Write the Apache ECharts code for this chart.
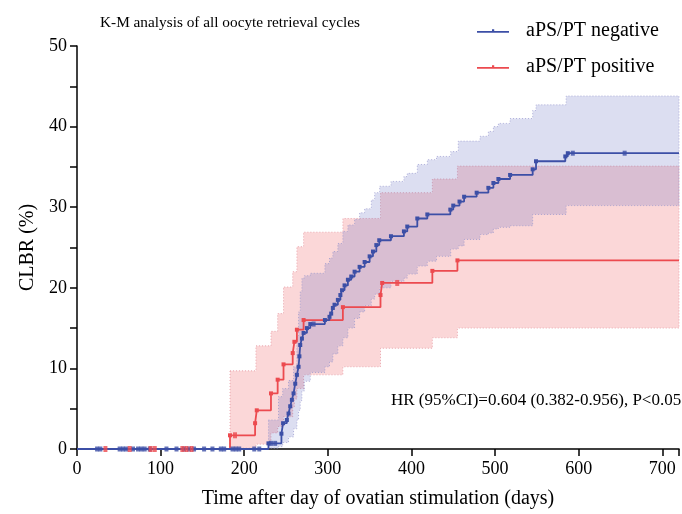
<!DOCTYPE html>
<html>
<head>
<meta charset="utf-8">
<script src="https://cdn.jsdelivr.net/npm/echarts@6/dist/echarts.min.js"></script>
<style>html,body{margin:0;padding:0;background:#fff;}#c{width:682px;height:514px;}</style>
</head>
<body>
<div id="c"></div>
<script>
// ---- data (days, cumulative live birth rate %) ----
const xTicks = [0, 100, 200, 300, 400, 500, 600, 700];
const yTicks = [0, 10, 20, 30, 40, 50];

const negDays = [0, 229, 244.5, 246.5, 251, 253, 255, 257, 259, 261, 263, 265, 266, 267, 269, 271, 275, 279, 296.5, 302, 304, 306, 308, 312, 315, 317, 320, 324, 328, 332, 338, 344, 350, 354, 358, 361.5, 375.5, 391, 395, 407, 419, 446.5, 450, 457.5, 463, 478, 492, 498, 504, 518, 545, 549, 584, 587, 720];
const negVals = [0, 0.7, 1.9, 3.2, 3.6, 4.4, 5.3, 6.1, 6.9, 8.1, 9.2, 10.2, 11.5, 12.9, 13.7, 14.4, 15.0, 15.5, 16.0, 16.4, 16.8, 17.5, 17.9, 18.5, 19.1, 19.7, 20.3, 21.0, 21.4, 22.0, 22.6, 23.2, 23.9, 24.5, 25.3, 25.9, 26.4, 27.0, 27.6, 28.6, 29.1, 29.7, 30.2, 30.7, 31.3, 31.8, 32.4, 33.0, 33.5, 34.0, 34.7, 35.7, 36.3, 36.7, 36.7];

const posDays = [0, 183, 213, 215, 232, 240, 247, 258, 260, 263, 271, 318, 363, 365, 425, 455, 720];
const posVals = [0, 1.7, 3.2, 4.8, 6.9, 8.6, 10.5, 11.9, 13.3, 14.8, 16.0, 17.6, 19.1, 20.6, 22.1, 23.4, 23.4];

const negCIDays  = [229, 241, 246, 253, 259, 263, 265, 267, 269, 272, 279, 296.5, 302, 306, 312, 318, 324, 332, 338, 344, 352, 356, 362, 375.5, 391, 395, 407, 419, 430, 447, 456, 463, 482, 492, 498, 504, 518, 545, 549, 585, 720];
const negUpper   = [3.6, 6.5, 7.5, 8.5, 10.2, 14.0, 17.0, 19.5, 21.2, 21.5, 21.8, 23.0, 23.7, 24.5, 25.5, 27.0, 27.8, 28.5, 29.3, 29.8, 30.9, 31.8, 32.6, 33.2, 33.8, 34.2, 35.3, 35.9, 36.3, 36.9, 38.2, 38.2, 38.8, 39.4, 40.0, 40.4, 41.0, 42.0, 42.7, 43.8, 43.8];
const negLower   = [0.1, 0.3, 0.8, 1.5, 2.5, 3.6, 4.8, 6.0, 7.2, 8.4, 9.5, 10.2, 10.8, 11.8, 12.8, 13.8, 15.0, 16.2, 17.0, 17.8, 18.6, 19.2, 20.0, 20.8, 21.2, 21.7, 22.7, 23.3, 23.9, 24.8, 25.2, 26.0, 26.6, 26.8, 27.3, 27.5, 27.7, 29.1, 29.1, 30.2, 30.2];

const posCIDays  = [183, 214, 232, 240, 247, 258, 260, 263, 271, 318, 363, 425, 455, 720];
const posUpper   = [9.7, 12.8, 14.6, 16.8, 20.1, 22.0, 22.0, 25.1, 26.9, 28.6, 31.8, 33.5, 35.1, 35.1];
const posLower   = [0.1, 0.6, 2.0, 2.8, 4.0, 5.2, 6.2, 7.5, 9.2, 10.2, 12.5, 13.8, 15.0, 15.0];

const negCensorDays = [24, 28, 51, 55, 59, 67, 73, 77, 81, 87, 107, 119, 128, 134, 140, 152, 162, 172, 176, 186, 190, 194, 212, 218, 232, 237, 283, 593, 655];
const posCensorDays = [34, 63, 88, 93, 126, 131, 137, 189, 383];

const seriesNames = ['aPS/PT negative', 'aPS/PT positive'];
const titleText = 'K-M analysis of all oocyte retrieval cycles';
const hrText = 'HR (95%CI)=0.604 (0.382-0.956), P<0.05';
const xName = 'Time after day of ovatian stimulation (days)';
const yName = 'CLBR (%)';

// ---- helpers ----
const FONT = 'Liberation Serif';
const BLUE = '#3c4fa6';
const RED = '#ec4a4f';
const LEGEND_ICON = 'path://M0,4.2h32v1.6h-32z M15,2.4h2.2v2h-2.2z';

function stepAt(days, vals, t) {
  let v = vals[0];
  for (let i = 0; i < days.length; i++) if (days[i] <= t) v = vals[i];
  return v;
}
function bandPoints(days, up, lo) {
  const pts = [];
  const n = days.length;
  pts.push([days[0], up[0]]);
  for (let i = 1; i < n; i++) { pts.push([days[i], up[i - 1]]); pts.push([days[i], up[i]]); }
  const low = [];
  low.push([days[0], lo[0]]);
  for (let i = 1; i < n; i++) { low.push([days[i], lo[i - 1]]); low.push([days[i], lo[i]]); }
  return pts.concat(low.reverse());
}
function lineData(days, vals) {
  return days.map((d, i) => ({
    value: [d, vals[i]],
    symbolSize: (i === 0 || i === days.length - 1) ? 0 : [4, 4]
  }));
}
function bandSeries(days, up, lo, fill, stroke, z) {
  const pts = bandPoints(days, up, lo);
  return {
    type: 'custom', coordinateSystem: 'cartesian2d', silent: true, z: z,
    data: [[days[0], lo[0]]],
    renderItem: function (params, api) {
      return {
        type: 'polygon',
        shape: { points: pts.map(p => api.coord(p)) },
        style: { fill: fill, stroke: stroke, lineWidth: 1, lineDash: [1, 2] }
      };
    }
  };
}

const chart = echarts.init(document.getElementById('c'), null, { renderer: 'canvas' });
chart.setOption({
  animation: false,
  backgroundColor: '#fff',
  title: {
    text: titleText, left: 95, top: 10,
    textStyle: { fontFamily: FONT, fontSize: 15.3, fontWeight: 'normal', color: '#000' }
  },
  legend: {
    data: [
      { name: seriesNames[0], icon: LEGEND_ICON, itemStyle: { color: BLUE } },
      { name: seriesNames[1], icon: LEGEND_ICON, itemStyle: { color: RED } }
    ],
    orient: 'vertical', left: 472, top: 16,
    itemWidth: 32, itemHeight: 8, itemGap: 16,
    textStyle: { fontFamily: FONT, fontSize: 20, color: '#000', lineHeight: 20, padding: [0, 0, 0, 12] }
  },
  grid: { left: 77, top: 46, width: 609, height: 403 },
  xAxis: {
    type: 'value', min: 0, max: 720, interval: 100,
    name: xName, nameLocation: 'middle', nameGap: 40,
    nameTextStyle: { fontFamily: FONT, fontSize: 20, color: '#000' },
    axisLine: { lineStyle: { color: '#000', width: 1.5 } },
    axisTick: { length: 7, lineStyle: { color: '#000', width: 1.5 } },
    axisLabel: {
      fontFamily: FONT, fontSize: 18, color: '#000', margin: 11,
      formatter: v => (xTicks.indexOf(v) >= 0 ? String(v) : '')
    },
    splitLine: { show: false }
  },
  yAxis: {
    type: 'value', min: 0, max: 50, interval: 10,
    name: yName, nameLocation: 'middle', nameGap: 39,
    nameTextStyle: { fontFamily: FONT, fontSize: 20, color: '#000' },
    axisLine: { show: true, lineStyle: { color: '#000', width: 1.5 } },
    axisTick: { show: true, length: 7, lineStyle: { color: '#000', width: 1.5 } },
    minorTick: { show: true, splitNumber: 2, length: 7, lineStyle: { color: '#000', width: 1.5 } },
    axisLabel: {
      fontFamily: FONT, fontSize: 18, color: '#000', margin: 10,
      formatter: v => (yTicks.indexOf(v) >= 0 ? String(v) : '')
    },
    splitLine: { show: false }
  },
  graphic: [{
    type: 'text', left: 391, top: 392, z: 100,
    style: { text: hrText, fontFamily: FONT, fontSize: 17, fill: '#000' }
  }],
  series: [
    bandSeries(posCIDays, posUpper, posLower, 'rgba(242,110,115,0.28)', 'rgba(225,140,150,0.7)', 1),
    bandSeries(negCIDays, negUpper, negLower, 'rgba(95,105,190,0.22)', 'rgba(150,150,205,0.7)', 2),
    {
      name: seriesNames[1], type: 'line', step: 'end', z: 3,
      data: lineData(posDays, posVals),
      symbol: 'rect', showAllSymbol: true,
      lineStyle: { color: RED, width: 1.8 }, itemStyle: { color: RED }
    },
    {
      name: seriesNames[0], type: 'line', step: 'end', z: 4,
      data: lineData(negDays, negVals),
      symbol: 'rect', showAllSymbol: true,
      lineStyle: { color: BLUE, width: 1.8 }, itemStyle: { color: BLUE }
    },
    {
      type: 'scatter', z: 5, silent: true, symbol: 'rect', symbolSize: [4, 5],
      itemStyle: { color: BLUE },
      data: negCensorDays.map(d => [d, stepAt(negDays, negVals, d)])
    },
    {
      type: 'scatter', z: 6, silent: true, symbol: 'rect', symbolSize: [4, 6],
      itemStyle: { color: RED },
      data: posCensorDays.map(d => [d, stepAt(posDays, posVals, d)])
    }
  ]
});
</script>
</body>
</html>
